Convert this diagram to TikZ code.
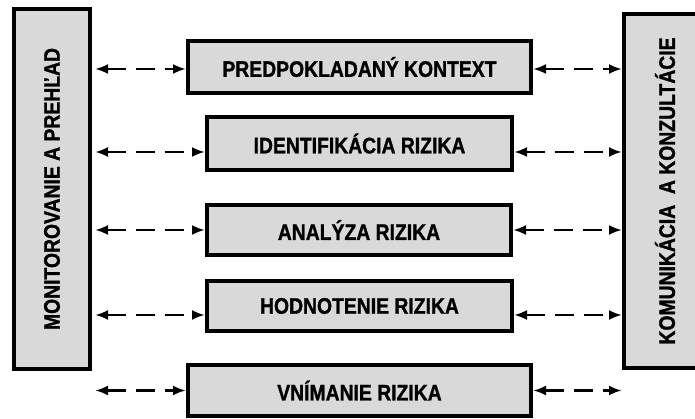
\documentclass[tikz,border=0pt]{standalone}
\usepackage{fontspec}
\setmainfont{Liberation Sans}[FakeStretch=0.86,FakeBold=1.2]
\usepackage{xcolor}
\usepackage{tikz}
\usetikzlibrary{calc,arrows.meta}
\definecolor{boxgray}{HTML}{D9D9D9}
\tikzset{
  stepbox/.style={draw=black,line width=4pt,fill=boxgray,inner sep=0pt},
  lbl/.style={font=\bfseries\fontsize{22.5}{26}\selectfont,inner sep=0pt},
  ar/.style={{Latex[length=13pt,width=10pt]}-{Latex[length=13pt,width=10pt]},line width=2.8pt,dash pattern=on 19pt off 10pt}
}

\begin{document}
\begin{tikzpicture}[x=1pt,y=-1pt]
\useasboundingbox (0,0) rectangle (695,419);
% side boxes
\node[stepbox,minimum width=76pt,minimum height=360pt] (mon) at (52,189) {};
\node[lbl,rotate=90] (monlbl) at (mon.center) {MONITOROVANIE A PREHĽAD};
\node[stepbox,minimum width=82pt,minimum height=354pt] (kom) at (665,191) {};
\node[lbl,rotate=90] (komlbl) at (kom.center) {KOMUNIKÁCIA\ \ A KONZULTÁCIE};
% process steps
\node[stepbox,lbl,minimum width=343pt,minimum height=52pt] (ctx) at (359.5,67) {PREDPOKLADANÝ KONTEXT};
\node[stepbox,lbl,minimum width=305pt,minimum height=53pt] (idf) at (359.5,143.5) {IDENTIFIKÁCIA RIZIKA};
\node[stepbox,lbl,minimum width=304pt,minimum height=50pt] (ana) at (359,230) {ANALÝZA RIZIKA};
\node[stepbox,lbl,minimum width=305pt,minimum height=50pt] (hod) at (359.5,306) {HODNOTENIE RIZIKA};
\node[stepbox,lbl,minimum width=343pt,minimum height=51pt] (vni) at (359.5,390.5) {VNÍMANIE RIZIKA};
% dashed links
\foreach \b/\dy in {ctx/2,idf/8.5,ana/0,hod/9,vni/0}{
  \coordinate (lw) at ($(\b.west)+(0,\dy)$);
  \coordinate (le) at ($(\b.east)+(0,\dy)$);
  \draw[ar,shorten <=3pt] (lw -| mon.east) -- (lw);
  \draw[ar] (le) -- (le -| kom.west);
}
\end{tikzpicture}
\end{document}
